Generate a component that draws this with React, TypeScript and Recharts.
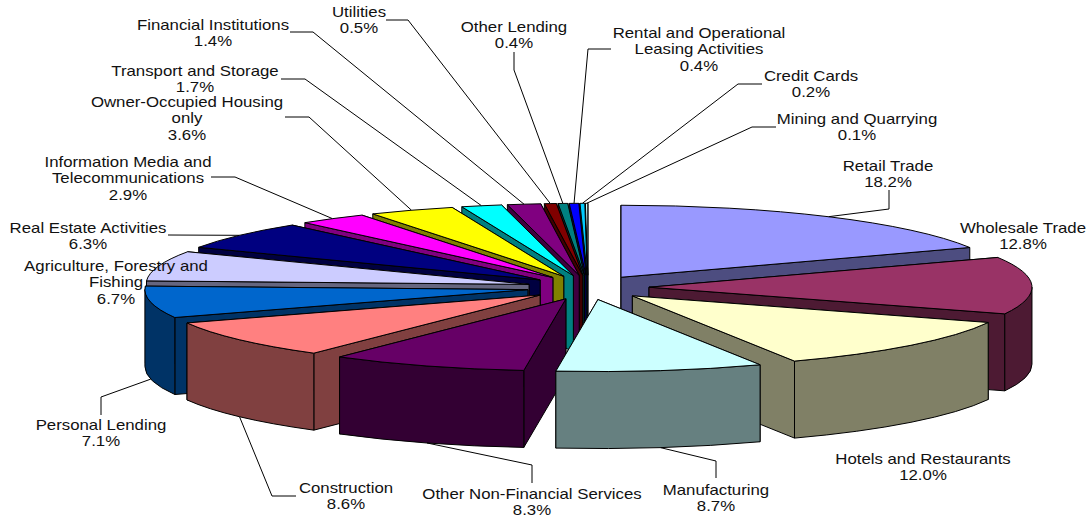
import { PieChart, Pie } from 'recharts';

const categories = [
  'Retail Trade',
  'Wholesale Trade',
  'Hotels and Restaurants',
  'Manufacturing',
  'Other Non-Financial Services',
  'Construction',
  'Personal Lending',
  'Agriculture, Forestry and Fishing',
  'Real Estate Activities',
  'Information Media and Telecommunications',
  'Owner-Occupied Housing only',
  'Transport and Storage',
  'Financial Institutions',
  'Utilities',
  'Other Lending',
  'Rental and Operational Leasing Activities',
  'Credit Cards',
  'Mining and Quarrying',
];

const shares = [18.2, 12.8, 12.0, 8.7, 8.3, 8.6, 7.1, 6.7, 6.3, 2.9, 3.6, 1.7, 1.4, 0.5, 0.4, 0.4, 0.2, 0.1];

const topColors = [
  '#9999FF', '#993366', '#FFFFCC', '#CCFFFF', '#660066', '#FF8080', '#0066CC', '#CCCCFF', '#000080',
  '#FF00FF', '#FFFF00', '#00FFFF', '#800080', '#800000', '#008080', '#0000FF', '#00CCFF', '#CCFFFF',
];

const sideColors = [
  '#4D4D80', '#4D1A33', '#808066', '#668080', '#330033', '#804040', '#003366', '#666680', '#000040',
  '#800080', '#808000', '#008080', '#400040', '#400000', '#004040', '#000080', '#006680', '#668080',
];

// text lines, centre x, first line centre y, leader elbow points
const labelLayout: Record<string, { lines: string[]; x: number; y: number; leader?: number[][] }> = {
  'Retail Trade': { lines: ['Retail Trade'], x: 888, y: 166, leader: [[889, 190], [889, 209]] },
  'Wholesale Trade': { lines: ['Wholesale Trade'], x: 1023, y: 228 },
  'Hotels and Restaurants': { lines: ['Hotels and Restaurants'], x: 923, y: 459 },
  Manufacturing: { lines: ['Manufacturing'], x: 716, y: 490, leader: [[716, 478], [716, 461]] },
  'Other Non-Financial Services': { lines: ['Other Non-Financial Services'], x: 532, y: 494, leader: [[532, 483], [532, 465]] },
  Construction: { lines: ['Construction'], x: 346, y: 488, leader: [[296, 496], [272, 496]] },
  'Personal Lending': { lines: ['Personal Lending'], x: 101, y: 425, leader: [[101, 415], [101, 397]] },
  'Agriculture, Forestry and Fishing': { lines: ['Agriculture, Forestry and', 'Fishing'], x: 116, y: 266 },
  'Real Estate Activities': { lines: ['Real Estate Activities'], x: 88, y: 228, leader: [[168, 235]] },
  'Information Media and Telecommunications': { lines: ['Information Media and', 'Telecommunications'], x: 128, y: 162, leader: [[211, 177], [235, 177]] },
  'Owner-Occupied Housing only': { lines: ['Owner-Occupied Housing', 'only'], x: 187, y: 102, leader: [[285, 117], [309, 117]] },
  'Transport and Storage': { lines: ['Transport and Storage'], x: 195, y: 71, leader: [[281, 79], [305, 79]] },
  'Financial Institutions': { lines: ['Financial Institutions'], x: 213, y: 25, leader: [[290, 32], [313, 32]] },
  Utilities: { lines: ['Utilities'], x: 359, y: 12, leader: [[386, 20], [408, 20]] },
  'Other Lending': { lines: ['Other Lending'], x: 514, y: 27, leader: [[514, 52], [514, 70]] },
  'Rental and Operational Leasing Activities': { lines: ['Rental and Operational', 'Leasing Activities'], x: 699, y: 33, leader: [[611, 49], [588, 49]] },
  'Credit Cards': { lines: ['Credit Cards'], x: 811, y: 76, leader: [[762, 84], [738, 84]] },
  'Mining and Quarrying': { lines: ['Mining and Quarrying'], x: 857, y: 119, leader: [[776, 127], [752, 127]] },
};

const rows = categories.map((name, i) => ({ name, value: shares[i], top: topColors[i], side: sideColors[i] }));

const CX = 588;
const CY = 287.5;
const RX = 383;
const RY = 72;
const DEPTH = 77;
const EXPLODE = 61;
const EXPLODE_Y = 0.2;
const RAD = Math.PI / 180;

// the exploded centre of a slice
function apexOf(start: number, end: number) {
  const mid = ((start + end) / 2) * RAD;
  return { x: CX + EXPLODE * Math.cos(mid), y: CY - EXPLODE * EXPLODE_Y * Math.sin(mid) };
}

function rimPoint(ax: number, ay: number, deg: number, drop = 0) {
  return [ax + RX * Math.cos(deg * RAD), ay - RY * Math.sin(deg * RAD) + drop];
}

// slices further back have to be painted first
const paintOrder = (() => {
  const total = shares.reduce((a, b) => a + b, 0);
  let acc = 0;
  const depthKey = shares.map((v) => {
    const mid = 90 - ((acc + v / 2) / total) * 360;
    acc += v;
    return Math.sin(mid * RAD);
  });
  return shares.map((_, i) => i).sort((a, b) => depthKey[b] - depthKey[a]);
})();

function wedge(props: any, only: string) {
  const name = props.name ?? props.payload?.name;
  if (name !== only) return <g />;
  const { startAngle: s, endAngle: e } = props;
  const top = props.top ?? props.payload?.top;
  const side = props.side ?? props.payload?.side;
  const { x: ax, y: ay } = apexOf(s, e);
  const p1 = rimPoint(ax, ay, s);
  const p2 = rimPoint(ax, ay, e);
  const large = s - e > 180 ? 1 : 0;

  const wall = (deg: number) => {
    const p = rimPoint(ax, ay, deg);
    return `M${ax},${ay}L${p[0]},${p[1]}L${p[0]},${p[1] + DEPTH}L${ax},${ay + DEPTH}Z`;
  };
  const startFront = Math.cos(s * RAD) < 0;
  const endFront = Math.cos(e * RAD) > 0;
  const walls = [
    { d: wall(s), front: startFront },
    { d: wall(e), front: endFront },
  ].sort((a, b) => Number(a.front) - Number(b.front));

  // outer rim is only visible on the front half
  const a1 = Math.min(s, 0);
  const a2 = Math.max(e, -180);
  let rim = '';
  if (a1 > a2) {
    const r1 = rimPoint(ax, ay, a1);
    const r2 = rimPoint(ax, ay, a2);
    rim = `M${r1[0]},${r1[1]}A${RX},${RY} 0 0 1 ${r2[0]},${r2[1]}L${r2[0]},${r2[1] + DEPTH}A${RX},${RY} 0 0 0 ${r1[0]},${r1[1] + DEPTH}Z`;
  }

  return (
    <g stroke="#000" strokeWidth={1} strokeLinejoin="round">
      {walls.map((w, i) => (
        <path key={i} d={w.d} fill={side} />
      ))}
      {rim && <path d={rim} fill={side} />}
      <path d={`M${ax},${ay}L${p1[0]},${p1[1]}A${RX},${RY} 0 ${large} 1 ${p2[0]},${p2[1]}Z`} fill={top} />
    </g>
  );
}

function renderLabel(props: any) {
  const name = props.name ?? props.payload?.name;
  const value = props.value ?? props.payload?.value;
  const layout = labelLayout[name];
  if (!layout) return <g />;
  const { startAngle: s, endAngle: e } = props;
  const { x: ax, y: ay } = apexOf(s, e);
  const mid = (s + e) / 2;
  const end = rimPoint(ax, ay, mid, Math.sin(mid * RAD) < 0 ? DEPTH : 0);
  const pts = layout.leader ? [...layout.leader, end] : null;
  const lines = [...layout.lines, `${Number(value).toFixed(1)}%`];
  return (
    <g>
      {pts && <polyline points={pts.map((p) => p.join(',')).join(' ')} fill="none" stroke="#000" strokeWidth={1} />}
      {lines.map((line, i) => (
        <text
          key={i}
          transform={`translate(${layout.x},${layout.y + i * 16.5}) scale(1.2,1)`}
          textAnchor="middle"
          dominantBaseline="central"
          fontFamily="'Liberation Sans', Arial, sans-serif"
          fontSize={14}
          fill="#111"
        >
          {line}
        </text>
      ))}
    </g>
  );
}

export default function App() {
  return (
    <div style={{ position: 'fixed', left: 0, top: 0, width: 1089, height: 518, background: '#fff' }}>
      <PieChart width={1089} height={518} margin={{ top: 0, right: 0, bottom: 0, left: 0 }}>
        {paintOrder.map((idx) => (
          <Pie
            key={categories[idx]}
            data={rows}
            dataKey="value"
            nameKey="name"
            cx={CX}
            cy={CY}
            outerRadius={RX}
            startAngle={90}
            endAngle={-270}
            isAnimationActive={false}
            stroke="none"
            shape={(props: any) => wedge(props, categories[idx])}
          />
        ))}
        <Pie
          data={rows}
          dataKey="value"
          nameKey="name"
          cx={CX}
          cy={CY}
          outerRadius={RX}
          startAngle={90}
          endAngle={-270}
          isAnimationActive={false}
          fill="none"
          stroke="none"
          shape={() => <g />}
          labelLine={false}
          label={renderLabel}
        />
      </PieChart>
    </div>
  );
}
